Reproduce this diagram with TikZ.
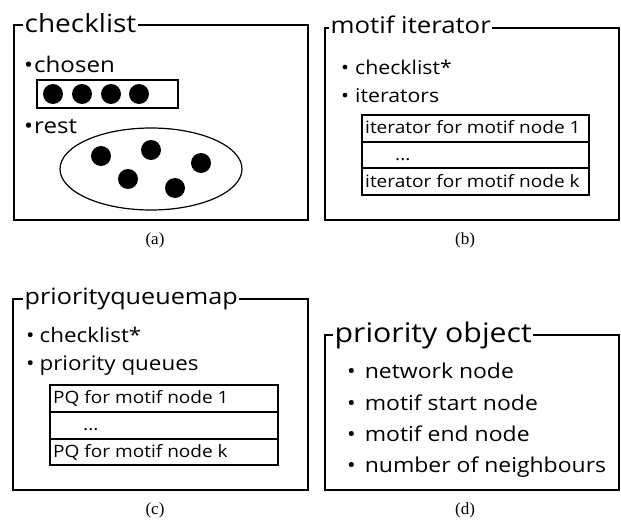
\documentclass[tikz,border=0pt]{standalone}
\usepackage{fontspec}
\setmainfont{Liberation Serif}
\setsansfont{Open Sans}[FakeStretch=1.12]
\begin{document}
\begin{tikzpicture}[x=1pt,y=-1pt,
  frame/.style={line width=2.4pt},
  thin box/.style={line width=1.1pt},
  ttl/.style={font=\sffamily\fontsize{#1}{#1}\selectfont, anchor=base west, fill=white, inner sep=1.5pt},
  itm/.style={font=\sffamily\fontsize{#1}{#1}\selectfont, anchor=base west, inner sep=0pt},
  captxt/.style={font=\fontsize{17}{17}\selectfont, inner sep=0pt},
  dot/.style={fill=black}]
\useasboundingbox (0,0) rectangle (621,522);

% ---------- (a) ----------
\draw[frame] (14,25) rectangle (308,220);
\node[ttl=25] (ta) at (23,32) {checklist};
\node[itm=21.5] (chosen) at (24,72) {\textbullet\hspace{1pt}chosen};
\draw[thin box] (37,80) rectangle (178,108);
\foreach \x in {53,82,111,139} \fill[dot] (\x,94) circle (10pt);
\node[itm=21.5] (rest) at (24,133) {\textbullet\hspace{1pt}rest};
\draw[line width=1.2pt] (151,169) ellipse [x radius=91pt, y radius=41pt];
\foreach \p in {(101,156),(151,150),(201,163),(128,179),(175,188)} \fill[dot] \p circle (10pt);
\node[captxt] (ca) at (155,240) {(a)};

% ---------- (b) ----------
\draw[frame] (325,28) rectangle (619,220);
\node[ttl=23] (tb) at (329,33) {motif iterator};
\node[itm=19] (b1) at (341,74) {\textbullet\hspace{6pt}checklist*};
\node[itm=19] (b2) at (341,102) {\textbullet\hspace{6pt}iterators};
\draw[thin box] (362,115) rectangle (589,195);
\draw[thin box] (362,142) -- (589,142);
\draw[thin box] (362,168) -- (589,168);
\node[itm=17] (b3) at (365,133) {iterator for motif node 1};
\node[itm=17] (b4) at (395,160) {...};
\node[itm=17] (b5) at (365,187) {iterator for motif node k};
\node[captxt] (cb) at (465,240) {(b)};

% ---------- (c) ----------
\draw[frame] (13,299) rectangle (308,490);
\node[ttl=22.5] (tc) at (23,304) {priorityqueuemap};
\node[itm=20] (c1) at (26,342) {\textbullet\hspace{5pt}checklist*};
\node[itm=20] (c2) at (26,370) {\textbullet\hspace{5pt}priority queues};
\draw[thin box] (50,385) rectangle (278,465);
\draw[thin box] (50,412) -- (278,412);
\draw[thin box] (50,439) -- (278,439);
\node[itm=17] (c3) at (53,403) {PQ for motif node 1};
\node[itm=17] (c4) at (83,430) {...};
\node[itm=17] (c5) at (53,457) {PQ for motif node k};
\node[captxt] (cc) at (155,510) {(c)};

% ---------- (d) ----------
\draw[frame] (325,335) rectangle (619,490);
\node[ttl=27] (td) at (333,342) {priority object};
\node[itm=20.5] (d1) at (347,378) {\textbullet\hspace{9pt}network node};
\node[itm=20.5] (d2) at (347,410) {\textbullet\hspace{9pt}motif start node};
\node[itm=20.5] (d3) at (347,441) {\textbullet\hspace{9pt}motif end node};
\node[itm=20.5] (d4) at (347,472) {\textbullet\hspace{9pt}number of neighbours};
\node[captxt] (cd) at (465,510) {(d)};
\end{tikzpicture}
\end{document}
